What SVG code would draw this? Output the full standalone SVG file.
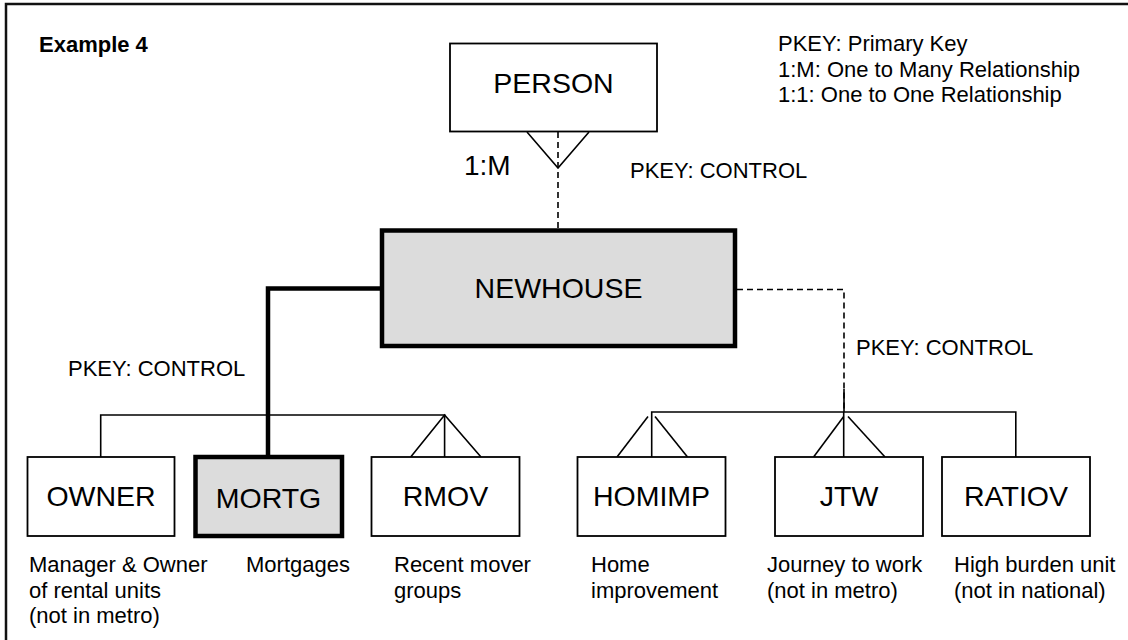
<svg xmlns="http://www.w3.org/2000/svg" width="1128" height="640" viewBox="0 0 1128 640">
<style>
text{font-family:"Liberation Sans",Arial,sans-serif;fill:#000}
.box{fill:#fff;stroke:#000;stroke-width:1.8}
.hl{fill:#dcdcdc;stroke:#000;stroke-width:4.5}
.name{font-size:28.5px;text-anchor:middle}
.lbl{font-size:22px}
.ln{fill:none;stroke:#000;stroke-width:1.6}
.dash{fill:none;stroke:#000;stroke-width:1.6;stroke-dasharray:6 4}
.thick{fill:none;stroke:#000;stroke-width:4.5}
</style>
<rect x="0" y="0" width="1128" height="640" fill="#fff"/>
<rect x="6" y="4" width="1200" height="700" fill="none" stroke="#111" stroke-width="2.5"/>
<text x="39" y="52" font-size="22" font-weight="bold" style="font-size:22px">Example 4</text>
<g id="legend">
<text class="lbl" x="778" y="51">PKEY: Primary Key</text>
<text class="lbl" x="778" y="77">1:M: One to Many Relationship</text>
<text class="lbl" x="778" y="102">1:1: One to One Relationship</text>
</g>
<g id="connectors">
<polyline class="ln" points="527,132 558,168 589,132"/>
<line class="dash" x1="558" y1="132" x2="558" y2="229"/>
<text x="464" y="175" style="font-size:28px">1:M</text>
<text class="lbl" x="630" y="178">PKEY: CONTROL</text>
<polyline class="thick" points="380,288.5 268,288.5 268,455"/>
<text class="lbl" x="68" y="376">PKEY: CONTROL</text>
<polyline class="dash" points="737,289.5 844,289.5 844,412"/>
<line class="ln" x1="844" y1="389" x2="844" y2="412"/>
<text class="lbl" x="856" y="355">PKEY: CONTROL</text>
<polyline class="ln" points="100.7,457 100.7,415 444.6,415 444.6,457"/>
<polyline class="ln" points="410.7,457 444.6,415 481,457"/>
<polyline class="ln" points="651.7,457 651.7,412 1015.8,412 1015.8,457"/>
<polyline class="ln" points="617,457 648,416.5"/>
<polyline class="ln" points="655,416.5 687.5,457"/>
<line class="ln" x1="843.7" y1="412" x2="843.7" y2="457"/>
<polyline class="ln" points="813.6,457 843.7,416.5"/>
<polyline class="ln" points="848,416.5 885,457"/>
</g>
<g id="person">
<rect class="box" x="450" y="43.5" width="207" height="88"/>
<text class="name" x="553.5" y="93">PERSON</text>
</g>
<g id="newhouse">
<rect class="hl" x="382" y="230.5" width="353" height="115.5"/>
<text class="name" x="558.5" y="298">NEWHOUSE</text>
</g>
<g id="owner">
<rect class="box" x="27.5" y="457" width="147" height="79"/>
<text class="name" x="101" y="506">OWNER</text>
<text class="lbl" x="29" y="572">Manager &amp; Owner</text>
<text class="lbl" x="29" y="598">of rental units</text>
<text class="lbl" x="29" y="623">(not in metro)</text>
</g>
<g id="mortg">
<rect class="hl" x="195.5" y="457" width="146.5" height="79"/>
<text class="name" x="268.5" y="508">MORTG</text>
<text class="lbl" x="246" y="572">Mortgages</text>
</g>
<g id="rmov">
<rect class="box" x="371.5" y="457" width="148" height="79"/>
<text class="name" x="445.5" y="506">RMOV</text>
<text class="lbl" x="394" y="572">Recent mover</text>
<text class="lbl" x="394" y="598">groups</text>
</g>
<g id="homimp">
<rect class="box" x="577.5" y="457" width="148" height="79"/>
<text class="name" x="651.5" y="506">HOMIMP</text>
<text class="lbl" x="591" y="572">Home</text>
<text class="lbl" x="591" y="598">improvement</text>
</g>
<g id="jtw">
<rect class="box" x="775" y="457" width="148" height="79"/>
<text class="name" x="849" y="506">JTW</text>
<text class="lbl" x="767" y="572">Journey to work</text>
<text class="lbl" x="767" y="598">(not in metro)</text>
</g>
<g id="ratiov">
<rect class="box" x="942" y="457" width="148" height="79"/>
<text class="name" x="1016" y="506">RATIOV</text>
<text class="lbl" x="954" y="572">High burden unit</text>
<text class="lbl" x="954" y="598">(not in national)</text>
</g>
</svg>
